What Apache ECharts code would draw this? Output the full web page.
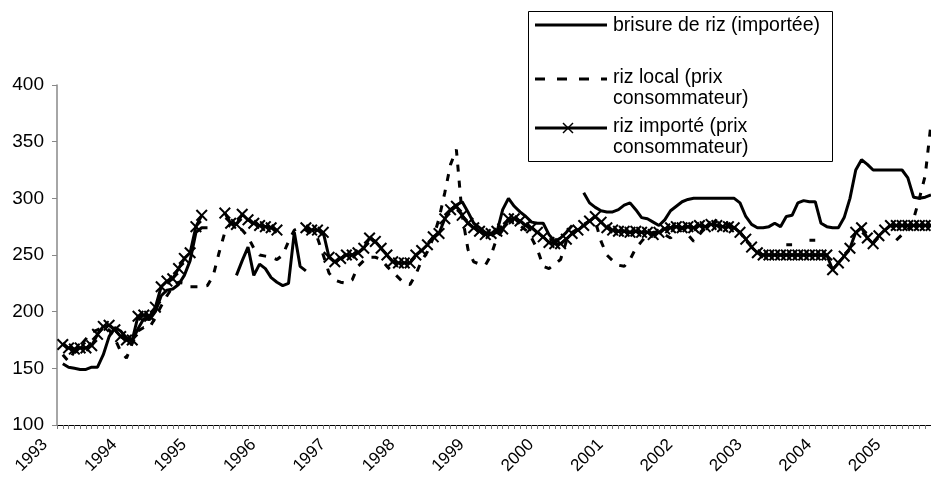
<!DOCTYPE html>
<html>
<head>
<meta charset="utf-8">
<script src="https://cdn.jsdelivr.net/npm/echarts@6/dist/echarts.min.js"></script>
<style>
html,body{margin:0;padding:0;background:#fff}
#main{width:931px;height:477px}
</style>
</head>
<body>
<div id="main"></div>
<script>
// années affichées sur l'axe (une étiquette tous les 12 mois)
var years = ['1993','1994','1995','1996','1997','1998','1999','2000','2001','2002','2003','2004','2005'];
var nbMonths = 152;

// brisure de riz (importée)
var brisure = [
  null,154,151,150,149,149,151,151,162,178,186,183,
  177,174,185,194,193,200,214,219,220,224,232,245,
  270,274,274,null,null,null,null,232,245,257,232,242,
  238,230,226,223,225,270,240,236,null,null,null,null,
  null,null,null,null,null,null,null,null,null,null,null,null,
  null,null,null,null,null,null,null,285,290,294,297,288,
  278,274,270,268,270,290,300,293,288,284,279,278,
  278,268,262,265,270,276,null,305,296,292,289,288,
  288,290,294,296,290,283,282,279,276,281,289,293,
  297,299,300,300,300,300,300,300,300,300,296,284,
  277,274,274,275,278,275,284,285,296,298,297,297,
  278,275,274,274,283,300,325,334,330,325,325,325,
  325,325,325,318,301,300,301,303
];

// riz local (prix consommateur)
var rizLocal = [
  null,162,156,165,170,176,182,184,186,184,176,165,
  159,172,183,186,186,195,205,214,222,226,225,222,
  222,222,223,232,252,270,278,276,272,266,256,250,
  249,248,246,250,262,272,274,272,268,265,250,234,
  228,226,225,228,240,245,248,248,246,240,235,230,
  225,224,233,245,253,265,282,305,330,343,285,255,
  244,242,241,250,265,272,280,280,276,272,265,255,
  240,238,242,246,262,270,273,277,280,280,262,250,
  245,241,240,246,256,262,268,270,270,268,265,270,
  274,268,262,268,274,276,280,281,277,274,270,263,
  null,null,null,null,null,null,259,259,null,null,263,263,
  null,null,null,null,null,null,null,null,null,null,null,null,
  null,263,268,272,282,300,320,366
];

// riz importé (prix consommateur)
var rizImporte = [
  null,171,168,167,168,168,170,180,187,188,184,178,
  175,175,196,197,196,204,222,227,229,238,247,252,
  275,285,null,null,null,287,278,277,286,281,278,276,
  275,274,272,null,null,null,null,274,272,272,270,248,
  244,247,250,250,252,256,265,262,256,250,244,243,
  243,243,250,254,259,266,269,282,290,293,285,278,
  274,271,268,269,271,273,282,282,280,276,274,270,
  266,261,260,260,264,269,272,276,280,284,279,274,
  272,271,271,270,271,270,270,268,270,273,274,275,
  274,275,274,276,275,277,276,275,275,274,270,264,
  257,252,250,250,250,250,250,250,250,250,250,250,
  250,250,237,243,249,256,270,274,265,260,267,272,
  276,276,276,276,276,276,276,276
];

// catégories mensuelles
var months = [];
years.forEach(function(y){
  for (var m = 1; m <= 12; m++) months.push(y + '-' + (m < 10 ? '0' + m : m));
});
months = months.slice(0, nbMonths);

var font = 'Liberation Sans, Arial, sans-serif';
var croix = 'path://M0,1.2L1.2,0L5,3.8L8.8,0L10,1.2L6.2,5L10,8.8L8.8,10L5,6.2L1.2,10L0,8.8L3.8,5Z';

var chart = echarts.init(document.getElementById('main'));

var option = {
  animation: false,
  backgroundColor: '#fff',
  grid: {left: 57, right: 0, top: 85, bottom: 52, containLabel: false},
  xAxis: {
    type: 'category',
    data: months,
    boundaryGap: false,
    axisLine: {lineStyle: {color: '#000', width: 1}},
    axisTick: {interval: 0, length: 4, lineStyle: {color: '#777'}},
    axisLabel: {
      interval: function(idx){ return idx % 12 === 0; },
      formatter: function(v){ return v.slice(0, 4); },
      rotate: 45,
      margin: 5,
      padding: [0, 17, 0, 0],
      color: '#000',
      fontSize: 17,
      fontFamily: font
    },
    splitLine: {show: false}
  },
  yAxis: {
    type: 'value',
    min: 100, max: 400, interval: 50,
    axisLine: {show: true, lineStyle: {color: '#888', width: 1.5}},
    axisTick: {show: true, length: 5, lineStyle: {color: '#888'}},
    axisLabel: {color: '#000', fontSize: 19, fontFamily: font, margin: 13},
    splitLine: {show: false}
  },
  series: [
    {
      name: 'brisure de riz (importée)',
      type: 'line',
      data: brisure,
      symbol: 'none',
      lineStyle: {color: '#000', width: 3},
      connectNulls: false
    },
    {
      name: 'riz local (prix consommateur)',
      type: 'line',
      data: rizLocal,
      symbol: 'none',
      lineStyle: {color: '#000', width: 3, type: [7, 9]},
      connectNulls: false
    },
    {
      name: 'riz importé (prix consommateur)',
      type: 'line',
      data: rizImporte,
      symbol: croix,
      symbolSize: 12,
      showSymbol: true,
      showAllSymbol: true,
      itemStyle: {color: '#000'},
      lineStyle: {color: '#000', width: 3},
      connectNulls: false
    }
  ],
  // légende dessinée dans un cadre comme l'original
  graphic: [
    {type: 'rect', z: 100, shape: {x: 528.5, y: 11.5, width: 304, height: 150},
     style: {fill: '#fff', stroke: '#000', lineWidth: 1}},
    {type: 'line', z: 101, shape: {x1: 535, y1: 25, x2: 607, y2: 25},
     style: {stroke: '#000', lineWidth: 3}},
    {type: 'line', z: 101, shape: {x1: 535, y1: 79, x2: 607, y2: 79},
     style: {stroke: '#000', lineWidth: 3, lineDash: [10, 12]}},
    {type: 'line', z: 101, shape: {x1: 535, y1: 128, x2: 607, y2: 128},
     style: {stroke: '#000', lineWidth: 3}},
    {type: 'line', z: 101, shape: {x1: 563, y1: 123, x2: 573, y2: 133},
     style: {stroke: '#000', lineWidth: 1.5}},
    {type: 'line', z: 101, shape: {x1: 563, y1: 133, x2: 573, y2: 123},
     style: {stroke: '#000', lineWidth: 1.5}},
    {type: 'text', z: 101, x: 613, y: 26,
     style: {text: 'brisure de riz (importée)', fill: '#000', fontSize: 19.5, fontFamily: font, verticalAlign: 'middle'}},
    {type: 'text', z: 101, x: 613, y: 78,
     style: {text: 'riz local (prix', fill: '#000', fontSize: 19.5, fontFamily: font, verticalAlign: 'middle'}},
    {type: 'text', z: 101, x: 613, y: 99,
     style: {text: 'consommateur)', fill: '#000', fontSize: 19.5, fontFamily: font, verticalAlign: 'middle'}},
    {type: 'text', z: 101, x: 613, y: 127,
     style: {text: 'riz importé (prix', fill: '#000', fontSize: 19.5, fontFamily: font, verticalAlign: 'middle'}},
    {type: 'text', z: 101, x: 613, y: 148,
     style: {text: 'consommateur)', fill: '#000', fontSize: 19.5, fontFamily: font, verticalAlign: 'middle'}}
  ]
};

chart.setOption(option);
</script>
</body>
</html>
